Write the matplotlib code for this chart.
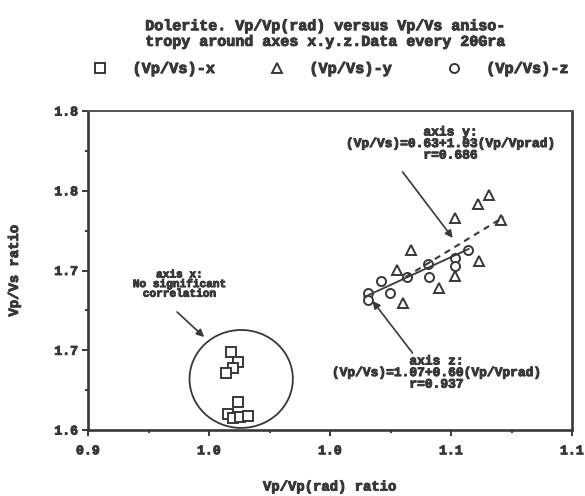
import matplotlib
matplotlib.use("Agg")
import matplotlib.pyplot as plt
from matplotlib.patches import Ellipse
from matplotlib.lines import Line2D
import matplotlib.patheffects as pe

# ---- data ----
sq_x = [1.0092, 1.0121, 1.0100, 1.0071, 1.0121, 1.0079, 1.0100, 1.0129, 1.0162]
sq_y = [1.6489, 1.6426, 1.6389, 1.6357, 1.6176, 1.6100, 1.6075, 1.6082, 1.6088]

tri_x = [1.1156, 1.1110, 1.1205, 1.1015, 1.0833, 1.1114, 1.0775, 1.1015, 1.0949, 1.0800]
tri_y = [1.7473, 1.7417, 1.7317, 1.7329, 1.7129, 1.7060, 1.7003, 1.6966, 1.6890, 1.6796]

cir_x = [1.0655, 1.0655, 1.0709, 1.0746, 1.0820, 1.0907, 1.0911, 1.1015, 1.1015, 1.1069]
cir_y = [1.6859, 1.6815, 1.6934, 1.6859, 1.6959, 1.7041, 1.6959, 1.7078, 1.7028, 1.7129]

# regression lines (end points)
zline_x = [1.0642, 1.1073]
zline_y = [1.6834, 1.7135]
yline_x = [1.0812, 1.1218]
yline_y = [1.6959, 1.7335]

x_ticks = [0.95, 1.00, 1.05, 1.10, 1.15]
x_ticklabels = ["0.9", "1.0", "1.0", "1.1", "1.1"]
y_ticks = [1.60, 1.65, 1.70, 1.75, 1.80]
y_ticklabels = ["1.6", "1.7", "1.7", "1.8", "1.8"]

title_text = "Dolerite. Vp/Vp(rad) versus Vp/Vs aniso-\ntropy around axes x.y.z.Data every 20Gra"
series_labels = ["(Vp/Vs)-x", "(Vp/Vs)-y", "(Vp/Vs)-z"]

# ---- style ----
INK = "#383838"
FONT = ["Liberation Mono", "DejaVu Sans Mono"]
plt.rcParams['font.family'] = FONT
plt.rcParams['font.weight'] = 'bold'
THICK = [pe.withStroke(linewidth=0.7, foreground=INK)]

fig = plt.figure(figsize=(5.85, 4.96), dpi=100)
ax = fig.add_axes([88/585, 1-430/496, (572-88)/585, (430-111)/496])

ms = 6.5
mk = dict(ls='none', mfc='white', mec=INK, mew=1.4)
ax.plot(sq_x, sq_y, marker='s', ms=ms, **mk)
ax.plot(tri_x, tri_y, marker='^', ms=ms + 0.5, **mk)
ax.plot(cir_x, cir_y, marker='o', ms=ms, **mk)

ax.plot(zline_x, zline_y, color=INK, lw=1.3, ls='-')
ax.plot(yline_x, yline_y, color=INK, lw=1.5, ls=(0, (3, 2.5)))

# circle around x-axis points
ax.add_patch(Ellipse((1.0133, 1.632), 0.0427, 0.0614, fill=False, ec=INK, lw=1.3))

ax.set_xlim(0.95, 1.15)
ax.set_ylim(1.60, 1.80)
ax.set_xticks(x_ticks)
ax.set_xticklabels(x_ticklabels)
ax.set_yticks(y_ticks)
ax.set_yticklabels(y_ticklabels)
ax.set_xticks([0.975, 1.025, 1.075, 1.125], minor=True)
ax.set_yticks([1.625, 1.675, 1.725, 1.775], minor=True)
ax.tick_params(which='major', direction='out', length=4, width=1.4, color=INK,
               labelsize=9.5, labelcolor=INK)
ax.tick_params(axis='x', which='major', pad=7)
ax.tick_params(axis='y', which='major', pad=3)
ax.tick_params(which='minor', direction='out', length=2, width=1.4, color=INK)
for lab in ax.get_xticklabels() + ax.get_yticklabels():
    lab.set_fontweight('bold')
    lab.set_path_effects(THICK)
for side in ['left', 'bottom', 'right']:
    ax.spines[side].set_linewidth(1.9)
    ax.spines[side].set_color(INK)
ax.spines['top'].set_linewidth(1.4)
ax.spines['top'].set_color("#555555")

ax.set_xlabel("Vp/Vp(rad) ratio", fontsize=10, fontweight='bold', color=INK, labelpad=16,
              path_effects=THICK)
ax.set_ylabel("Vp/Vs ratio", fontsize=10, fontweight='bold', color=INK, labelpad=24,
              path_effects=THICK)

# annotations
akw = dict(arrowstyle='-|>', color=INK, lw=1.2, mutation_scale=11, shrinkA=0, shrinkB=0)
tkw = dict(ha='center', va='center', fontweight='bold', color=INK, linespacing=0.95,
           path_effects=THICK)

ax.text(0.9877, 1.6915, "axis x:\nNo significant\ncorrelation", fontsize=8, **tkw)
ax.annotate("", xy=(0.9980, 1.6583), xytext=(0.9868, 1.6740), arrowprops=akw)

ax.text(1.0998, 1.7793, "axis y:\n(Vp/Vs)=0.63+1.03(Vp/Vprad)\nr=0.686", fontsize=9.3, **tkw)
ax.annotate("", xy=(1.1007, 1.7204), xytext=(1.0800, 1.7618), arrowprops=akw)

ax.text(1.0940, 1.6357, "axis z:\n(Vp/Vs)=1.07+0.60(Vp/Vprad)\nr=0.937", fontsize=9.3, **tkw)
ax.annotate("", xy=(1.0676, 1.6809), xytext=(1.0841, 1.6483), arrowprops=akw)

fig.text(0.556, 1-34/496, title_text, ha='center', va='center', fontsize=10.8,
         fontweight='bold', color=INK, linespacing=1.15, path_effects=THICK)

handles = [Line2D([], [], marker=m, ms=ms, **mk) for m in ['s', '^', 'o']]
leg = fig.legend(handles, series_labels, loc='center', bbox_to_anchor=(0.565, 1-69/496), ncol=3,
                 frameon=False, handlelength=1.0, handletextpad=1.6, columnspacing=3.6,
                 prop={'family': FONT, 'weight': 'bold', 'size': 11}, labelcolor=INK)
for t in leg.get_texts():
    t.set_path_effects(THICK)

fig.savefig("out.png", dpi=100, facecolor='white')
